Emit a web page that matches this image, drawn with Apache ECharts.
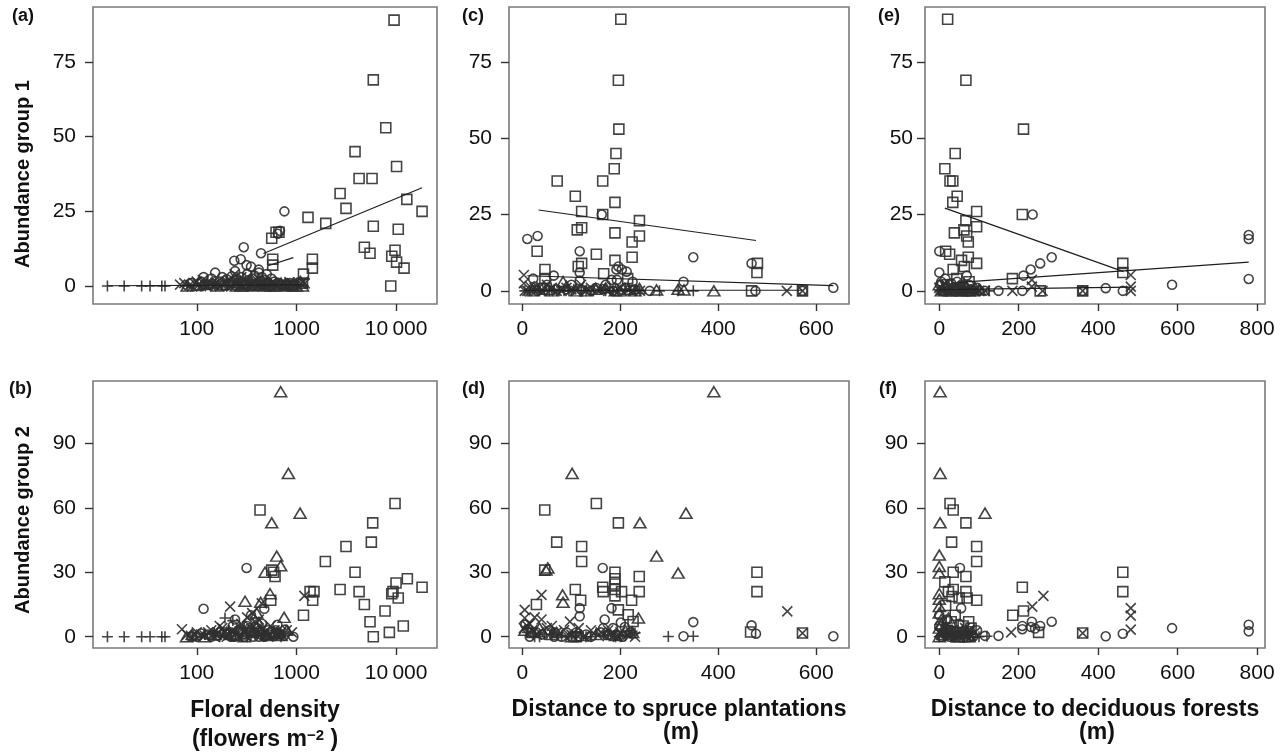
<!DOCTYPE html>
<html><head><meta charset="utf-8">
<script src="https://cdn.jsdelivr.net/npm/echarts@6/dist/echarts.min.js"></script>
<style>html,body{margin:0;padding:0;background:#fff}#c{width:1287px;height:752px}</style>
</head><body><div id="c"></div>
<script>
// ---------- tick labels ----------
const floralTicks = [100, 1000, 10000];
const spruceTicks = [0, 200, 400, 600];
const decidTicks = [0, 200, 400, 600, 800];
const abund1Ticks = [0, 25, 50, 75];
const abund2Ticks = [0, 30, 60, 90];

// ---------- panel (a): floral density vs abundance group 1 ----------
const aSquare = [[9530,89],[5900,69],[7870,53],[3870,45],[4250,36],[5730,36],[10100,40],[2740,31],[3140,26],[12800,29],[18200,25],[1306,23],[1968,21],[5900,20],[10500,19],[4800,13],[5470,11],[9750,12],[9040,10],[10100,8],[12000,6],[8830,0],[1445,9],[1445,6],[1176,4],[565,16],[624,18],[668,18],[578,9],[578,7],[1150,1],[900,0]];
const aCircle = [[757,25],[296,13],[441,11],[238,8.5],[276,9],[316,7],[153,4.5],[117,3],[89,1],[684,18.5],[650,17.5],[419,5.5],[503,4],[242,5],[350,6.5],[200,2.3],[225,3.3],[330,2],[450,3],[380,3.5],[931,0],[130,0.5],[170,1.5],[260,1],[300,0.5],[400,1],[500,0.5],[600,1.5],[700,0.5],[560,2.5],[360,0],[280,3],[480,2],[110,1.5],[140,2.5],[180,3],[210,1],[250,2],[320,4],[360,2.5],[420,4.5],[440,1.5],[520,1],[650,1],[780,0.5],[850,1]];
const aTriangle = [[80,0],[120,0.5],[160,0],[200,0.5],[250,0],[300,0.5],[350,0],[420,0.5],[480,0],[550,0],[650,0.5],[750,0],[850,0.3],[1000,0],[1150,0],[100,0.2],[140,1],[180,0.4],[230,1.2],[280,0],[330,1],[390,0.3],[460,1],[520,0.5],[600,0],[700,1],[800,0.5],[950,0.8],[1100,1.5]];
const aCross = [[68,0.5],[75,1],[90,0],[100,1.5],[110,0],[130,1],[150,0.5],[170,0],[190,1],[210,2],[230,0.5],[260,1.5],[290,0],[320,1],[350,0.5],[400,2],[450,1],[500,0],[560,1],[620,0.5],[700,1],[800,0],[900,1],[1000,0.5],[1176,1.5],[1210,0.9],[280,3],[240,4],[85,0.3],[95,1],[105,0.5],[115,2],[125,0],[140,0.8],[160,1.2],[180,0.3],[200,1.6],[220,0],[245,0.8],[270,0.3],[300,1.8],[330,0.2],[370,1.2],[420,0.4],[470,1.5],[530,0.3],[600,1.1],[660,0],[750,0.6],[850,1.3],[950,0.2],[1100,0.8]];
const aPlus = [[12.7,0],[18.7,0],[28,0],[34,0],[44.6,0],[48,0],[80,0],[110,0],[150,0.5],[200,0],[260,0.5],[330,0],[420,0],[520,0.5]];
const aSquareFit = [[466,10.9],[18200,32.9]];
const aCircleFit = [[520,6.8],[930,9.5]];
const aPlusFit = [[12.7,0.1],[1200,0.4]];

// ---------- panel (b): floral density vs abundance group 2 ----------
const bSquare = [[9750,62],[5820,53],[5640,44],[3140,42],[1950,35],[3870,30],[2740,22],[4250,21],[4800,15],[7740,12],[5470,7],[5900,0],[8550,2],[11800,5],[9040,20],[9300,21],[9980,25],[10500,18],[12950,27],[18200,23],[1370,21],[1455,17],[1176,10],[1500,21],[431,59],[565,31],[610,28],[590,30],[552,17]];
const bCircle = [[316,32],[117,13],[242,8],[476,13],[931,0],[644,5.6],[769,3.3],[89,0],[130,1],[160,0.5],[190,2],[220,0],[260,3],[290,1],[320,5],[350,10],[380,2],[420,0],[450,6],[520,3],[560,2],[600,0.5],[700,1],[230,5],[300,0],[400,4],[100,0],[110,1.5],[140,0],[170,2],[200,1],[240,0],[270,2],[310,1],[340,4],[370,0],[410,2.5],[440,1],[480,0],[530,1],[620,3],[670,1],[750,0.5]];
const bTriangle = [[695,114],[830,76],[1087,57.5],[565,53],[634,37.5],[695,33],[484,30],[305,16.5],[543,20],[438,16],[752,9],[400,11],[79,0],[150,1],[200,2],[250,0.5],[330,3],[420,6],[500,1],[600,2],[700,0.5],[90,1],[120,0],[170,3],[220,1],[270,4],[300,0],[360,2],[440,3],[520,0.5],[650,1.5],[800,3]];
const bCross = [[216,14],[71,3.5],[1200,19],[449,15.5],[420,8],[80,1],[100,2],[120,0.5],[140,3],[160,1],[180,4],[200,0],[250,2],[280,6],[320,9],[360,11],[400,3],[480,2],[550,5],[650,1],[800,3],[900,2],[90,0],[110,1],[130,2],[150,0],[170,5],[190,2],[210,1],[230,3],[260,0],[300,2],[340,5],[380,7],[430,1],[460,4],[520,0],[600,3],[700,2]];
const bPlus = [[12.7,0],[18.7,0],[28,0],[34,0],[44.6,0],[48,0],[192,8.7],[230,7.5],[150,2],[300,4],[350,1],[450,0.5],[600,2],[90,0],[120,1],[170,0],[210,3],[260,1],[320,0],[380,2],[500,1],[700,0]];

// ---------- panel (c): distance to spruce vs abundance group 1 ----------
const cSquare = [[201,89],[196,69],[197,53],[191,45],[187.5,40],[71,36],[164,36],[108,31],[189,29],[121,26],[164,25],[239,23],[121,20.7],[112,20],[189,19],[224,16],[239,18],[30,13],[151,12],[224,11],[189,10],[121,9],[114,8],[46,7],[166,5.6],[480,9],[479,6],[215,4],[46,4],[468,0],[572,0]];
const cCircle = [[10,17],[31,18],[117,13],[162,25],[349,11],[468,9],[329,3],[635,1],[22,4],[64,5],[117,6],[117,3.4],[196,8],[203,7],[213,6.3],[192,7],[182,3.6],[193,3.6],[165,0.6],[476,0],[572,0],[40,1],[90,0.5],[140,0],[230,0.5],[260,0],[30,0],[50,2],[70,0.5],[100,2],[120,0.5],[150,1],[170,2],[185,0],[210,1],[225,3]];
const cTriangle = [[83,3],[274,0.3],[318,0.5],[239,0.8],[391,0],[330,0.3],[20,0],[50,0.5],[110,0],[150,0.5],[200,0],[230,0],[30,1],[60,0],[90,1.5],[130,0],[170,1],[190,0],[215,0.5]];
const cCross = [[3,5.2],[3,2.5],[540,0],[572,0],[10,0],[25,1],[40,0],[60,1],[80,0],[100,0.5],[130,0],[160,0.5],[190,0],[215,0.5],[240,0],[5,0],[15,1.5],[30,0.5],[50,2],[70,0],[90,1],[110,0],[120,2],[140,1],[175,0],[200,1],[225,0]];
const cPlus = [[318,0],[349,0],[15,0],[35,0],[55,0],[75,0],[95,0],[120,0],[145,0],[170,0],[195,0],[220,0],[240,0],[280,0],[5,0],[25,0.5],[45,0],[65,0.5],[85,0],[105,0.5],[130,0],[160,0.5],[185,0],[210,0.5],[230,0]];
const cSquareFit = [[33,26.5],[477,16.5]];
const cCircleFit = [[10,4.95],[635,1.7]];
const cZeroFit = [[3,0.2],[572,0.2]];

// ---------- panel (d): distance to spruce vs abundance group 2 ----------
const dSquare = [[45.6,59],[151,62],[196,53],[70,44],[121,42],[121,35],[45.6,31],[108,22],[119,17],[164,23],[165,21],[189,30],[189,27],[189,24.5],[189,22],[189,19],[202.5,21],[238.6,28],[238.6,21],[223,17],[196,12.5],[216,10.2],[226,7.1],[28.6,15],[479,30],[479,21],[466,2.2],[572,1.7],[110,0]];
const dCircle = [[164,32],[182,13.3],[168,8],[349,6.8],[468,5.3],[477,1.4],[329,0.2],[635,0.2],[117,13.3],[117,9.5],[165,4],[201,6.6],[209,4.5],[190,0.9],[197,0.5],[65,2],[65,0],[28.6,2],[11.5,3.6],[117,0],[6,5.6],[18,2],[130,1],[90,2],[100,0],[15,0],[40,1],[55,3],[80,0],[110,2],[140,0],[160,2],[175,1],[185,4],[205,0],[220,2]];
const dTriangle = [[391,114],[101.5,76],[334,57.5],[240,53],[274,37.5],[318,29.6],[52,32],[48,31],[82,19.5],[83,16],[237,8.7],[20,2],[60,1],[120,0.5],[180,1],[210,3],[5,3],[35,4],[70,2],[100,0],[150,1],[190,0.5],[225,2]];
const dCross = [[39,19.5],[4.7,12.5],[4.7,8.7],[39,8],[97,7],[541,11.8],[572,1.7],[10,5],[20,3],[30,1],[50,4],[70,2],[110,1],[140,3],[180,1],[200,2],[230,0],[3,4],[15,6],[25,9],[35,2],[60,5],[85,3],[100,1],[115,4],[125,0],[160,2],[175,3],[195,0],[215,1]];
const dPlus = [[298,0.1],[349,0.2],[230,1.7],[219,1.7],[224,2.5],[165,0.5],[25,0],[45,1],[80,0.5],[130,0],[150,1],[190,0],[210,0.5],[10,2],[35,0],[60,1],[95,0],[110,2],[140,0],[175,1],[200,0]];

// ---------- panel (e): distance to deciduous vs abundance group 1 ----------
const eSquare = [[21,89],[67,69],[212,53],[40,45],[14,40],[27,36],[34,36],[45,31],[34,29],[94,26],[67,23],[94,21],[38,19],[62,20],[69,18],[73,16],[16,13],[26,12],[73,11],[56,10],[94,9],[63,8],[35,7],[44,4],[184,4],[209,25],[462,9],[462,6],[254,0],[361,0],[20,2],[50,1],[75,3]];
const eCircle = [[0,13],[235,25],[283,11],[254,9],[230,7],[212,5],[0,6],[779,18.3],[779,17],[779,3.9],[586,2],[419,0.9],[462,0],[209,0],[149,0],[115,0],[69,5],[5,3],[20,1],[40,0],[60,2],[80,0.5],[100,0],[30,2.5],[50,0.5],[361,0],[2,2],[8,0],[15,4],[25,0.5],[35,1],[45,3],[55,0],[65,1],[75,2],[85,0],[95,1]];
const eTriangle = [[5,0],[15,1],[25,0],[40,0.5],[55,0],[70,1],[85,0],[100,0.5],[0,2],[10,0.5],[20,2],[30,0],[45,1],[60,0],[75,0],[90,1]];
const eCross = [[115,0],[184,0],[233,1.4],[233,3.6],[260,0],[361,0],[482,5.2],[482,1.4],[482,0],[10,0],[30,1],[50,0],[70,0.5],[90,0],[0,1],[20,0],[40,2],[60,0],[80,1],[100,0]];
const ePlus = [[2,0],[18,0],[35,0],[52,0],[65,0],[80,0],[125,0],[8,1],[28,0],[45,1],[58,0],[72,0.5],[90,0]];
const eSquareFit = [[14,27.1],[464,6.3]];
const eCircleFit = [[50,2.8],[779,9.4]];
const eZeroFit = [[0,0.4],[482,1.2]];

// ---------- panel (f): distance to deciduous vs abundance group 2 ----------
const fSquare = [[27,62],[35,59],[67,53],[31,44],[94,42],[94,35],[35,30],[67,28],[14,25.5],[35,22],[23,21],[67,21],[94,17],[16,14.5],[32,18.7],[50,18],[70,18],[209,23],[212,12],[185,10],[74,7],[462,30],[462,21],[250,2],[361,1.7],[40,10],[60,5],[20,3],[45,2],[65,0],[80,4],[30,7]];
const fCircle = [[52,32],[55,13.3],[283,7],[233,7],[231,4.5],[209,5],[209,3.5],[254,5],[241,3.8],[586,4],[779,5.6],[779,2.5],[419,0.2],[462,1.4],[115,0.4],[149,0.4],[0,5],[10,2],[25,0],[45,1],[65,0],[80,0.5],[0,10],[5,0],[15,1],[30,3],[40,0],[55,2],[70,1],[85,0],[95,3],[50,6],[20,8]];
const fTriangle = [[2,114],[2,76],[115,57.5],[2,53],[0,38],[0,32.7],[0,29.6],[0,20],[0,17.4],[0,14],[0,11],[23,8.7],[5,6],[10,3],[30,1],[50,0],[70,2],[0,0],[0,4],[5,8],[10,1],[20,4],[35,2],[45,0],[60,3],[75,0],[85,2]];
const fCross = [[262,19],[234,14],[482,13.3],[482,9.8],[482,3.3],[181,2],[361,1.7],[77,3.3],[5,1],[20,3],[40,0],[60,2],[80,0.5],[0,2],[15,5],[25,0],[35,3],[50,1],[65,4],[70,0],[90,2]];
const fPlus = [[120,0.2],[0,0],[15,1],[30,0],[45,2],[60,0],[75,1],[5,3],[25,2],[40,0],[55,1],[85,0],[100,0]];

// ---------- rendering ----------
const FONT = '"Liberation Sans", Arial, Helvetica, sans-serif';
const INK = '#303030';
const SHAPES = {
  square:   { symbol: 'rect', size: 10 },
  circle:   { symbol: 'circle', size: 9 },
  triangle: { symbol: 'triangle', size: [12, 10] },
  cross:    { symbol: 'path://M0,0L10,10M10,0L0,10', size: 10 },
  plus:     { symbol: 'path://M5,0L5,10M0,5L10,5', size: 11 }
};
const panels = [
  { sets: { square: aSquare, circle: aCircle, triangle: aTriangle, cross: aCross, plus: aPlus }, fits: [aSquareFit, aCircleFit, aPlusFit] },
  { sets: { square: bSquare, circle: bCircle, triangle: bTriangle, cross: bCross, plus: bPlus }, fits: [] },
  { sets: { square: cSquare, circle: cCircle, triangle: cTriangle, cross: cCross, plus: cPlus }, fits: [cSquareFit, cCircleFit, cZeroFit] },
  { sets: { square: dSquare, circle: dCircle, triangle: dTriangle, cross: dCross, plus: dPlus }, fits: [] },
  { sets: { square: eSquare, circle: eCircle, triangle: eTriangle, cross: eCross, plus: ePlus }, fits: [eSquareFit, eCircleFit, eZeroFit] },
  { sets: { square: fSquare, circle: fCircle, triangle: fTriangle, cross: fCross, plus: fPlus }, fits: [] }
];

const grids = [
  { left: 93, top: 7, width: 344, height: 297 },
  { left: 93, top: 381, width: 344, height: 267 },
  { left: 509, top: 7, width: 340, height: 297 },
  { left: 509, top: 381, width: 340, height: 267 },
  { left: 925, top: 7, width: 340, height: 297 },
  { left: 925, top: 381, width: 340, height: 267 }
].map(g => Object.assign(g, { show: true, borderColor: '#7a7a7a', borderWidth: 1.6, backgroundColor: '#fff', containLabel: false, outerBoundsMode: 'none' }));

function fmtTick(v) {
  const r = Math.round(v);
  return r === 10000 ? '10\u2009000' : String(r);
}
function makeX(i, type, min, max, ticks) {
  return {
    gridIndex: i, type: type, min: min, max: max, logBase: 10,
    axisLine: { show: false, onZero: false },
    axisTick: { show: true, length: 7, customValues: ticks, lineStyle: { color: '#333', width: 1.4 } },
    axisLabel: { show: true, customValues: ticks, margin: 15, color: '#111', fontSize: 21, fontFamily: FONT, formatter: fmtTick },
    splitLine: { show: false }, minorTick: { show: false }
  };
}
function makeY(i, min, max, ticks, margin) {
  return {
    gridIndex: i, type: 'value', min: min, max: max,
    axisLine: { show: false, onZero: false },
    axisTick: { show: true, length: 8, customValues: ticks, lineStyle: { color: '#333', width: 1.4 } },
    axisLabel: { show: true, customValues: ticks, margin: margin, color: '#111', fontSize: 21, fontFamily: FONT, formatter: fmtTick },
    splitLine: { show: false }
  };
}
const xAxes = [
  makeX(0, 'log', 9.1, 25700, floralTicks),
  makeX(1, 'log', 9.1, 25700, floralTicks),
  makeX(2, 'value', -27.4, 667, spruceTicks),
  makeX(3, 'value', -27.4, 667, spruceTicks),
  makeX(4, 'value', -36, 820, decidTicks),
  makeX(5, 'value', -36, 820, decidTicks)
];
const yAxes = [
  makeY(0, -6, 93.4, abund1Ticks, 17),
  makeY(1, -5.25, 119, abund2Ticks, 17),
  makeY(2, -4.3, 93, abund1Ticks, 17),
  makeY(3, -5.25, 119, abund2Ticks, 17),
  makeY(4, -4.3, 93, abund1Ticks, 12),
  makeY(5, -5.25, 119, abund2Ticks, 17)
];

const series = [];
panels.forEach((p, i) => {
  Object.keys(p.sets).forEach(k => {
    series.push({
      type: 'scatter', xAxisIndex: i, yAxisIndex: i,
      symbol: SHAPES[k].symbol, symbolSize: SHAPES[k].size,
      data: p.sets[k], silent: true,
      itemStyle: { color: 'rgba(0,0,0,0)', borderColor: INK, borderWidth: 1.6, opacity: 0.9 }
    });
  });
  p.fits.forEach(f => {
    series.push({
      type: 'line', xAxisIndex: i, yAxisIndex: i, data: f, symbol: 'none', silent: true,
      lineStyle: { color: '#1e1e1e', width: 1.2 }, z: 3
    });
  });
});

function txt(x, y, text, size) {
  return { type: 'text', x: x, y: y, silent: true,
    style: { text: text, fill: '#111', font: 'bold ' + size + 'px ' + FONT, align: 'left', verticalAlign: 'middle' } };
}
function ctxt(x, y, text, size, rot) {
  return { type: 'text', x: x, y: y, rotation: rot || 0, silent: true,
    style: { text: text, fill: '#111', font: 'bold ' + size + 'px ' + FONT, align: 'center', verticalAlign: 'middle' } };
}
const supText = ctxt(265, 740, '(flowers m{sup|\u22122} )', 23);
supText.style.rich = { sup: { font: 'bold 15px ' + FONT, fill: '#111', verticalAlign: 'top', padding: [0, 0, 8, 0] } };
const graphics = [
  txt(12, 16, '(a)', 18), txt(9, 389, '(b)', 18),
  txt(462, 16, '(c)', 18), txt(462, 389, '(d)', 18),
  txt(878, 16, '(e)', 18), txt(879, 389, '(f)', 18),
  ctxt(23, 174, 'Abundance group 1', 20, Math.PI / 2),
  ctxt(23, 520, 'Abundance group 2', 20, Math.PI / 2),
  ctxt(265, 711, 'Floral density', 23),
  supText,
  ctxt(679, 710, 'Distance to spruce plantations', 23),
  ctxt(681, 733, '(m)', 23),
  ctxt(1095, 710, 'Distance to deciduous forests', 23),
  ctxt(1097, 733, '(m)', 23)
];

const chart = echarts.init(document.getElementById('c'), null, { renderer: 'canvas' });
chart.setOption({
  animation: false,
  backgroundColor: '#fff',
  grid: grids,
  xAxis: xAxes,
  yAxis: yAxes,
  series: series,
  graphic: graphics
});
</script></body></html>
